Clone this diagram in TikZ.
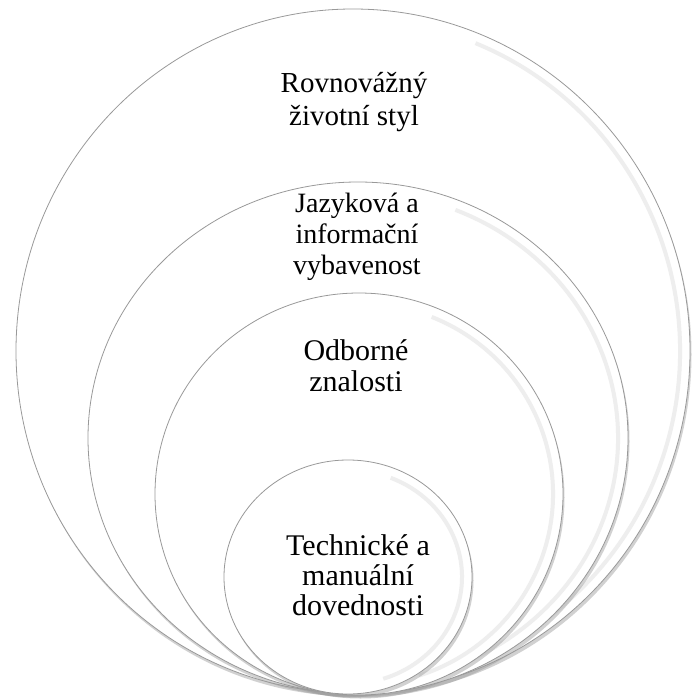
\documentclass[tikz,border=0pt]{standalone}
\usepackage{fontspec}
\setmainfont{Liberation Serif}
\usetikzlibrary{shapes.geometric,shadows,calc}

\begin{document}
\begin{tikzpicture}
  [x=1pt, y=-1pt,
   ring/.style={ellipse, draw=gray!80, line width=0.8pt, fill=white, inner sep=0pt,
     drop shadow={shadow xshift=1.5pt, shadow yshift=-3.5pt, opacity=0.45, fill=gray!80}},
   gloss/.style={draw=gray!13, line width=4pt},
   label/.style={align=center, inner sep=0pt, text=black}]

  \useasboundingbox (0,0) rectangle (697,699);

  % nested rings, outermost first
  \foreach \n/\cx/\cy/\rx/\ry in {1/353/351/337/342, 2/358/438/270/256,
                                  3/359/494/204/201, 4/348/577/124/117}{
    \node[ring, minimum width=2*\rx pt, minimum height=2*\ry pt] (ring\n) at (\cx,\cy) {};
    \draw[gloss] ($(ring\n.center)+(-68:{\rx-10} and {\ry-10})$)
      arc[start angle=-68, end angle=72, x radius=\rx-10, y radius=\ry-10];
  }

  \node[label, font=\fontsize{29}{33}\selectfont] (life) at (354,102) {Rovnovážný\\životní styl};
  \node[label, font=\fontsize{28}{31}\selectfont] (info) at (357,237) {Jazyková a\\informační\\vybavenost};
  \node[label, font=\fontsize{30}{31}\selectfont] (prof) at (356,366) {Odborné\\znalosti};
  \node[label, font=\fontsize{30}{30}\selectfont] (tech) at (358,575) {Technické a\\manuální\\dovednosti};
\end{tikzpicture}
\end{document}
